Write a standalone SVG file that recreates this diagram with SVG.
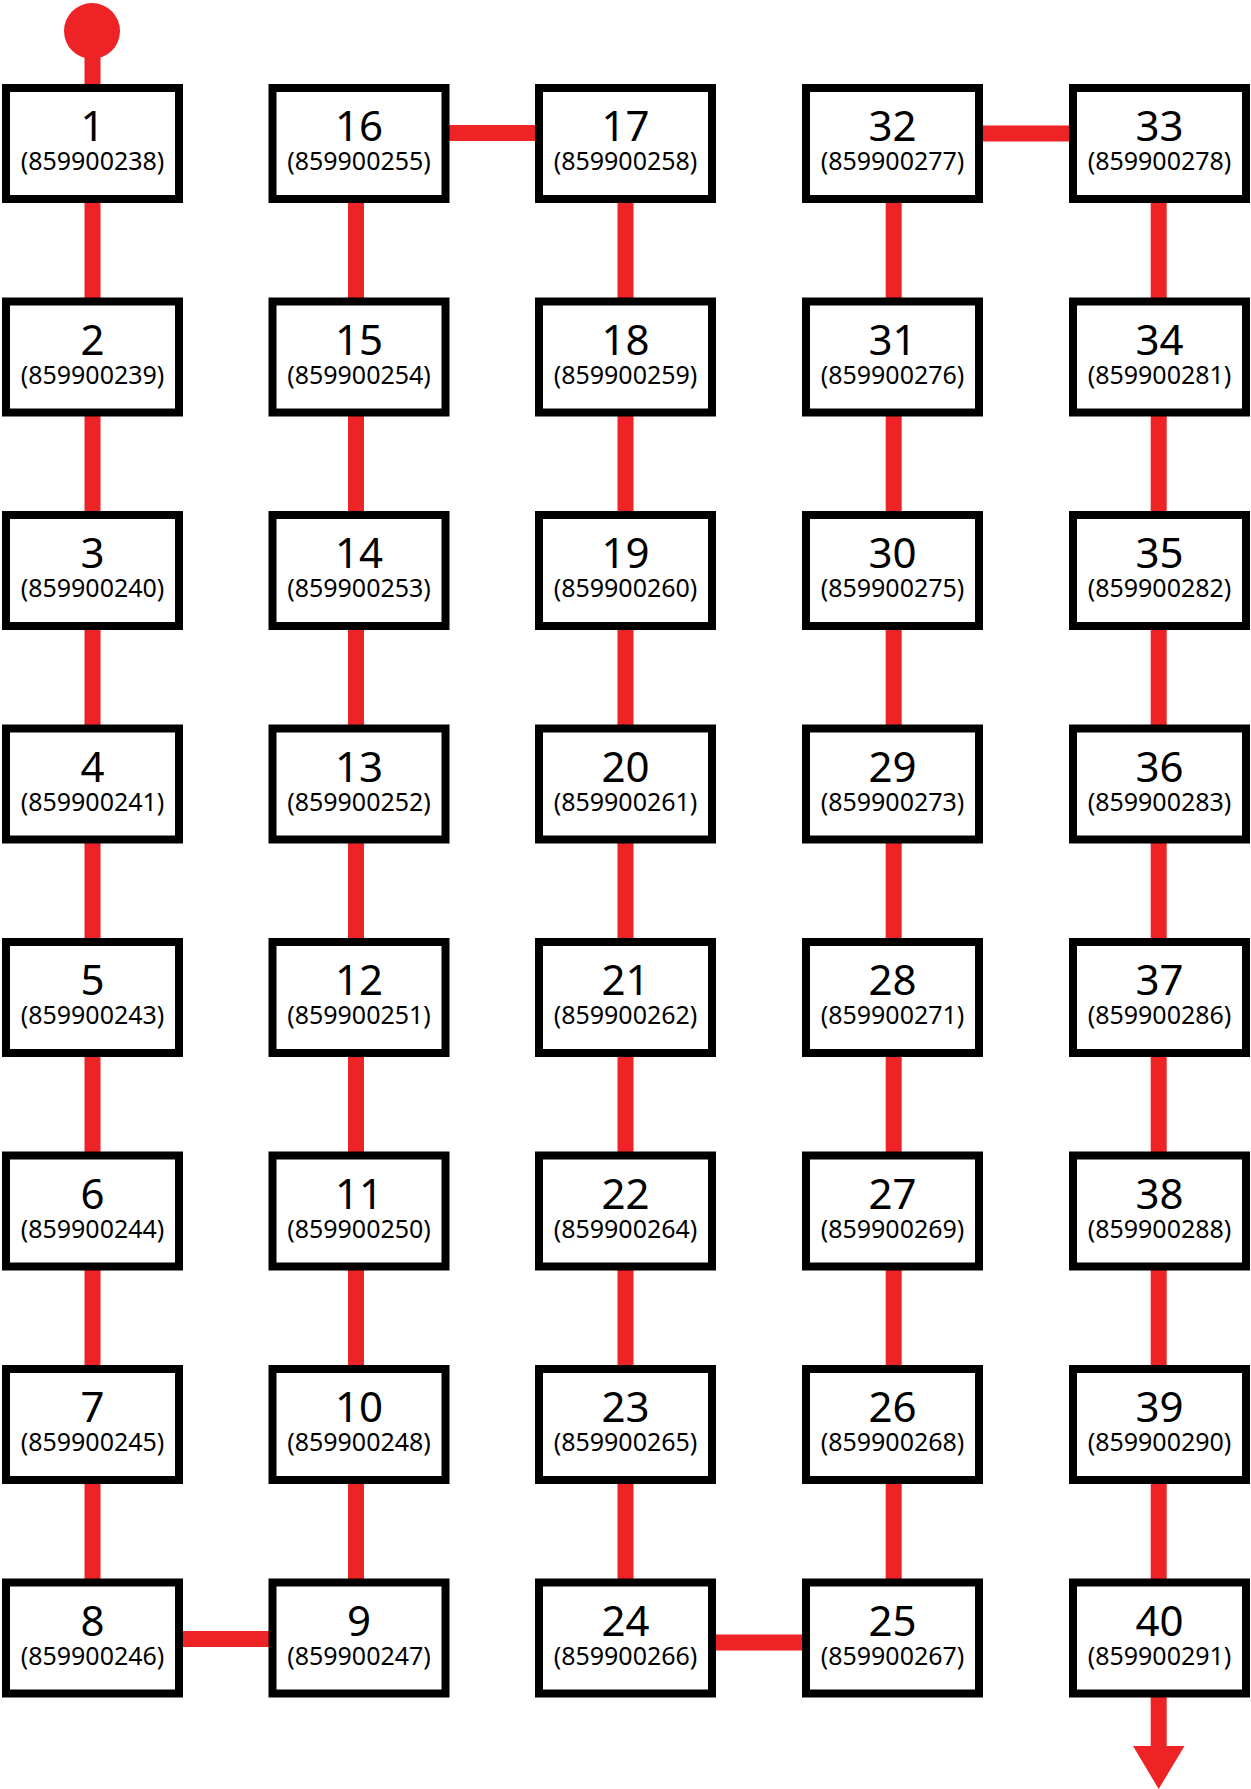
<svg xmlns="http://www.w3.org/2000/svg" width="1251" height="1789" viewBox="0 0 1251 1789">
<style>
.c{stroke:#ee2325;stroke-width:16;fill:none}
.b{fill:#fff;stroke:#000;stroke-width:8}
.n{font-family:"Noto Sans","Open Sans",sans-serif;font-size:42px;text-anchor:middle;fill:#000}
.l{font-family:"Noto Sans","Open Sans",sans-serif;font-size:25px;text-anchor:middle;fill:#000}
</style>
<rect width="1251" height="1789" fill="#fff"/>
<g id="connectors">
<circle cx="92" cy="31" r="28" fill="#ee2325"/>
<line class="c" x1="92.5" y1="31" x2="92.5" y2="1640"/>
<line class="c" x1="92.5" y1="1639" x2="356" y2="1639"/>
<line class="c" x1="356" y1="133" x2="356" y2="1640"/>
<line class="c" x1="356" y1="133" x2="625.5" y2="133"/>
<line class="c" x1="625.5" y1="133" x2="625.5" y2="1642"/>
<line class="c" x1="625.5" y1="1642.5" x2="893.7" y2="1642.5"/>
<line class="c" x1="893.7" y1="133.5" x2="893.7" y2="1642"/>
<line class="c" x1="893.7" y1="133.5" x2="1158.7" y2="133.5"/>
<line class="c" x1="1158.7" y1="133" x2="1158.7" y2="1750"/>
<polygon points="1133,1746 1184.5,1746 1158.7,1789" fill="#ee2325"/>
</g>
<g id="n1"><rect class="b" x="6" y="88" width="173" height="111"/><text class="n" x="92.5" y="141">1</text><text class="l" x="92.5" y="170">(859900238)</text></g>
<g id="n2"><rect class="b" x="6" y="301.5" width="173" height="111"/><text class="n" x="92.5" y="354.5">2</text><text class="l" x="92.5" y="383.5">(859900239)</text></g>
<g id="n3"><rect class="b" x="6" y="515" width="173" height="111"/><text class="n" x="92.5" y="568">3</text><text class="l" x="92.5" y="597">(859900240)</text></g>
<g id="n4"><rect class="b" x="6" y="728.5" width="173" height="111"/><text class="n" x="92.5" y="781.5">4</text><text class="l" x="92.5" y="810.5">(859900241)</text></g>
<g id="n5"><rect class="b" x="6" y="942" width="173" height="111"/><text class="n" x="92.5" y="995">5</text><text class="l" x="92.5" y="1024">(859900243)</text></g>
<g id="n6"><rect class="b" x="6" y="1155.5" width="173" height="111"/><text class="n" x="92.5" y="1208.5">6</text><text class="l" x="92.5" y="1237.5">(859900244)</text></g>
<g id="n7"><rect class="b" x="6" y="1369" width="173" height="111"/><text class="n" x="92.5" y="1422">7</text><text class="l" x="92.5" y="1451">(859900245)</text></g>
<g id="n8"><rect class="b" x="6" y="1582.5" width="173" height="111"/><text class="n" x="92.5" y="1635.5">8</text><text class="l" x="92.5" y="1664.5">(859900246)</text></g>

<g id="n16"><rect class="b" x="272.5" y="88" width="173" height="111"/><text class="n" x="359" y="141">16</text><text class="l" x="359" y="170">(859900255)</text></g>
<g id="n15"><rect class="b" x="272.5" y="301.5" width="173" height="111"/><text class="n" x="359" y="354.5">15</text><text class="l" x="359" y="383.5">(859900254)</text></g>
<g id="n14"><rect class="b" x="272.5" y="515" width="173" height="111"/><text class="n" x="359" y="568">14</text><text class="l" x="359" y="597">(859900253)</text></g>
<g id="n13"><rect class="b" x="272.5" y="728.5" width="173" height="111"/><text class="n" x="359" y="781.5">13</text><text class="l" x="359" y="810.5">(859900252)</text></g>
<g id="n12"><rect class="b" x="272.5" y="942" width="173" height="111"/><text class="n" x="359" y="995">12</text><text class="l" x="359" y="1024">(859900251)</text></g>
<g id="n11"><rect class="b" x="272.5" y="1155.5" width="173" height="111"/><text class="n" x="359" y="1208.5">11</text><text class="l" x="359" y="1237.5">(859900250)</text></g>
<g id="n10"><rect class="b" x="272.5" y="1369" width="173" height="111"/><text class="n" x="359" y="1422">10</text><text class="l" x="359" y="1451">(859900248)</text></g>
<g id="n9"><rect class="b" x="272.5" y="1582.5" width="173" height="111"/><text class="n" x="359" y="1635.5">9</text><text class="l" x="359" y="1664.5">(859900247)</text></g>

<g id="n17"><rect class="b" x="539" y="88" width="173" height="111"/><text class="n" x="625.5" y="141">17</text><text class="l" x="625.5" y="170">(859900258)</text></g>
<g id="n18"><rect class="b" x="539" y="301.5" width="173" height="111"/><text class="n" x="625.5" y="354.5">18</text><text class="l" x="625.5" y="383.5">(859900259)</text></g>
<g id="n19"><rect class="b" x="539" y="515" width="173" height="111"/><text class="n" x="625.5" y="568">19</text><text class="l" x="625.5" y="597">(859900260)</text></g>
<g id="n20"><rect class="b" x="539" y="728.5" width="173" height="111"/><text class="n" x="625.5" y="781.5">20</text><text class="l" x="625.5" y="810.5">(859900261)</text></g>
<g id="n21"><rect class="b" x="539" y="942" width="173" height="111"/><text class="n" x="625.5" y="995">21</text><text class="l" x="625.5" y="1024">(859900262)</text></g>
<g id="n22"><rect class="b" x="539" y="1155.5" width="173" height="111"/><text class="n" x="625.5" y="1208.5">22</text><text class="l" x="625.5" y="1237.5">(859900264)</text></g>
<g id="n23"><rect class="b" x="539" y="1369" width="173" height="111"/><text class="n" x="625.5" y="1422">23</text><text class="l" x="625.5" y="1451">(859900265)</text></g>
<g id="n24"><rect class="b" x="539" y="1582.5" width="173" height="111"/><text class="n" x="625.5" y="1635.5">24</text><text class="l" x="625.5" y="1664.5">(859900266)</text></g>

<g id="n32"><rect class="b" x="806" y="88" width="173" height="111"/><text class="n" x="892.5" y="141">32</text><text class="l" x="892.5" y="170">(859900277)</text></g>
<g id="n31"><rect class="b" x="806" y="301.5" width="173" height="111"/><text class="n" x="892.5" y="354.5">31</text><text class="l" x="892.5" y="383.5">(859900276)</text></g>
<g id="n30"><rect class="b" x="806" y="515" width="173" height="111"/><text class="n" x="892.5" y="568">30</text><text class="l" x="892.5" y="597">(859900275)</text></g>
<g id="n29"><rect class="b" x="806" y="728.5" width="173" height="111"/><text class="n" x="892.5" y="781.5">29</text><text class="l" x="892.5" y="810.5">(859900273)</text></g>
<g id="n28"><rect class="b" x="806" y="942" width="173" height="111"/><text class="n" x="892.5" y="995">28</text><text class="l" x="892.5" y="1024">(859900271)</text></g>
<g id="n27"><rect class="b" x="806" y="1155.5" width="173" height="111"/><text class="n" x="892.5" y="1208.5">27</text><text class="l" x="892.5" y="1237.5">(859900269)</text></g>
<g id="n26"><rect class="b" x="806" y="1369" width="173" height="111"/><text class="n" x="892.5" y="1422">26</text><text class="l" x="892.5" y="1451">(859900268)</text></g>
<g id="n25"><rect class="b" x="806" y="1582.5" width="173" height="111"/><text class="n" x="892.5" y="1635.5">25</text><text class="l" x="892.5" y="1664.5">(859900267)</text></g>

<g id="n33"><rect class="b" x="1073" y="88" width="173" height="111"/><text class="n" x="1159.5" y="141">33</text><text class="l" x="1159.5" y="170">(859900278)</text></g>
<g id="n34"><rect class="b" x="1073" y="301.5" width="173" height="111"/><text class="n" x="1159.5" y="354.5">34</text><text class="l" x="1159.5" y="383.5">(859900281)</text></g>
<g id="n35"><rect class="b" x="1073" y="515" width="173" height="111"/><text class="n" x="1159.5" y="568">35</text><text class="l" x="1159.5" y="597">(859900282)</text></g>
<g id="n36"><rect class="b" x="1073" y="728.5" width="173" height="111"/><text class="n" x="1159.5" y="781.5">36</text><text class="l" x="1159.5" y="810.5">(859900283)</text></g>
<g id="n37"><rect class="b" x="1073" y="942" width="173" height="111"/><text class="n" x="1159.5" y="995">37</text><text class="l" x="1159.5" y="1024">(859900286)</text></g>
<g id="n38"><rect class="b" x="1073" y="1155.5" width="173" height="111"/><text class="n" x="1159.5" y="1208.5">38</text><text class="l" x="1159.5" y="1237.5">(859900288)</text></g>
<g id="n39"><rect class="b" x="1073" y="1369" width="173" height="111"/><text class="n" x="1159.5" y="1422">39</text><text class="l" x="1159.5" y="1451">(859900290)</text></g>
<g id="n40"><rect class="b" x="1073" y="1582.5" width="173" height="111"/><text class="n" x="1159.5" y="1635.5">40</text><text class="l" x="1159.5" y="1664.5">(859900291)</text></g>
</svg>
